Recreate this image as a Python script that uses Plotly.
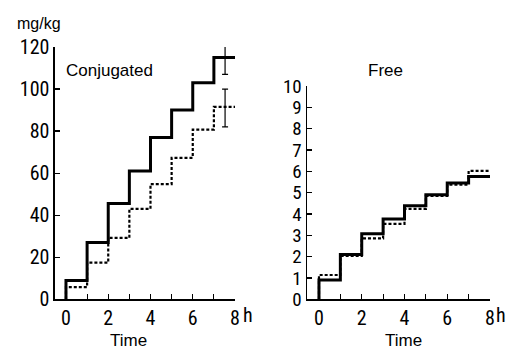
import plotly.graph_objects as go

hours = [0, 1, 2, 3, 4, 5, 6, 7]
conj_solid = [9, 27, 45.6, 61, 77, 90, 103, 115]
conj_dashed = [5.8, 17.4, 29.2, 43, 54.8, 67.3, 80.7, 91.5]
conj_err_x = 7.53
conj_solid_err = (116, 9)
conj_dashed_err = (91, 9)
free_solid = [0.9, 2.1, 3.07, 3.77, 4.38, 4.9, 5.45, 5.76]
free_dashed = [1.14, 2.03, 2.86, 3.54, 4.24, 4.85, 5.37, 6.02]

NUM = "Roboto Condensed"
TXT = "Liberation Sans"

def steps(vals, end):
    xs = [0] + hours + [end]
    ys = [0] + vals + [vals[-1]]
    return xs, ys

fig = go.Figure()
for vals, dash, w, end, ax in [
    (conj_solid, "solid", 3, 8.1, ("x", "y")),
    (conj_dashed, "3px,2px", 2.2, 8.0, ("x", "y")),
    (free_solid, "solid", 3, 8.0, ("x2", "y2")),
    (free_dashed, "3px,2px", 2.2, 8.0, ("x2", "y2")),
]:
    xs, ys = steps(vals, end)
    fig.add_trace(go.Scatter(x=xs, y=ys, mode="lines", line=dict(color="black", width=w, dash=dash, shape="hv"),
                             xaxis=ax[0], yaxis=ax[1], showlegend=False, hoverinfo="skip", cliponaxis=False))

fig.add_trace(go.Scatter(x=[conj_err_x, conj_err_x], y=[conj_solid_err[0], conj_dashed_err[0]], mode="markers",
                         marker=dict(size=1, color="rgba(0,0,0,0)"),
                         error_y=dict(type="data", array=[conj_solid_err[1], conj_dashed_err[1]], color="black", thickness=1.2, width=3),
                         xaxis="x", yaxis="y", showlegend=False, hoverinfo="skip", cliponaxis=False))

axis_common = dict(showline=True, linecolor="black", linewidth=1.5, ticks="inside", ticklen=5, tickcolor="black",
                   tickwidth=1.2, showgrid=False, zeroline=False, automargin=False,
                   tickfont=dict(family=NUM, size=20, color="black"))

fig.update_layout(
    template="none",
    width=511, height=352, margin=dict(l=0, r=0, t=0, b=0, pad=0, autoexpand=False),
    paper_bgcolor="white", plot_bgcolor="white",
    xaxis=dict(domain=[0.1076, 0.4599], range=[-0.52, 8.0], anchor="y", tickvals=[0, 1, 2, 3, 4, 5, 6, 7, 8],
               ticktext=["0", "", "2", "", "4", "", "6", "", "8"], **axis_common),
    yaxis=dict(domain=[0.1497, 0.8665], range=[0, 120], anchor="x", tickvals=[0, 20, 40, 60, 80, 100, 120], **axis_common),
    xaxis2=dict(domain=[0.6008, 0.9589], range=[-0.56, 8.0], anchor="y2", tickvals=[0, 1, 2, 3, 4, 5, 6, 7, 8],
                ticktext=["0", "", "2", "", "4", "", "6", "", "8"], **axis_common),
    yaxis2=dict(domain=[0.1497, 0.7557], range=[0, 10], anchor="x2", tickvals=list(range(11)), **axis_common),
)
fig.update_yaxes(selector=dict(anchor="x2"), tickfont=dict(family=NUM, size=19, color="black"))

ann = [
    ("mg/kg", 39, 24, TXT, 16),
    ("Conjugated", 109, 71, TXT, 17),
    ("Free", 385, 71, TXT, 17),
    ("Time", 128, 340, TXT, 17),
    ("Time", 403, 340, TXT, 17),
    ("h", 248, 315, NUM, 20),
    ("h", 501, 315, NUM, 20),
]
for text, px, py, fam, size in ann:
    fig.add_annotation(text=text, x=px / 511, y=1 - py / 352, xref="paper", yref="paper",
                       showarrow=False, xanchor="center", yanchor="middle",
                       font=dict(family=fam, size=size, color="black"))

fig.write_html("out.html", config={"displayModeBar": False, "staticPlot": True},
               post_script="document.body.style.margin='0';document.body.style.overflow='hidden';")
